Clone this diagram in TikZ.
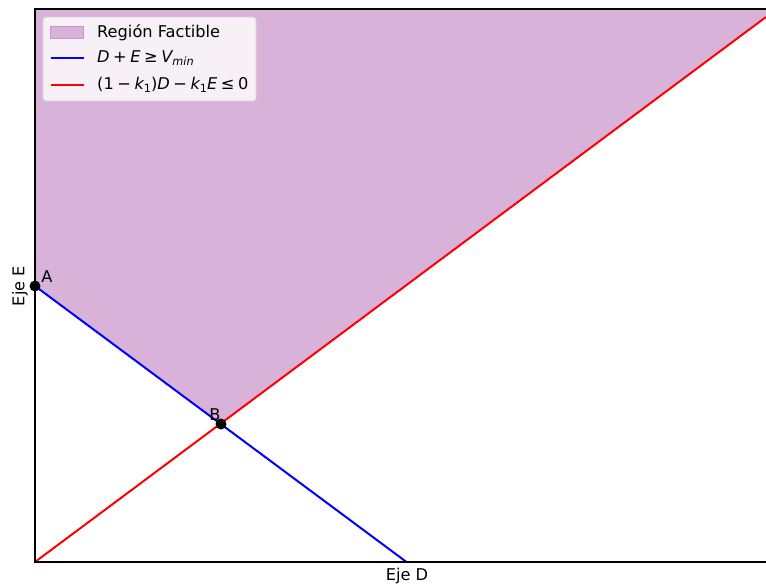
\documentclass[tikz,border=0pt]{standalone}
\usepackage{fontspec}
\setmainfont{DejaVu Sans}
\usetikzlibrary{positioning}
\definecolor{regionfill}{RGB}{217,178,217}
\definecolor{regionedge}{RGB}{200,150,200}
\definecolor{legendfill}{RGB}{247,240,247}
\definecolor{legendedge}{RGB}{214,214,214}
\definecolor{vblue}{RGB}{0,0,255}
\definecolor{kred}{RGB}{255,0,0}
\tikzstyle{spine} = [draw,line width=1.1pt]
\tikzstyle{constr} = [draw,line width=2pt]
\tikzstyle{dot} = [circle,fill=black,inner sep=0pt,minimum size=11pt]
\tikzstyle{lbl} = [font=\fontsize{16.2}{19}\selectfont,inner sep=0pt]
\newcommand{\vi}[1]{{\itshape #1}}
\newcommand{\vsub}[1]{\raisebox{-0.3ex}{\fontsize{11.3}{13}\selectfont\itshape #1}}
\newcommand{\nsub}[1]{\raisebox{-0.3ex}{\fontsize{11.3}{13}\selectfont #1}}
\newcommand{\opsp}{\hspace{0.22em}}

\begin{document}
\begin{tikzpicture}[x=1pt,y=-1pt]
    \useasboundingbox (0,0) rectangle (766,584);
    % axes corners
    \coordinate (tl) at (35,9);
    \coordinate (tr) at (766,9);
    \coordinate (bl) at (35,562);
    \coordinate (br) at (766,562);
    % vertices and line ends
    \coordinate (A) at (35,286);
    \coordinate (B) at (221,424);
    \coordinate (vend) at (406.5,562);
    \coordinate (kend) at (766,17);
    % feasible region
    \fill[regionfill] (A) -- (B) -- (kend) -- (tr) -- (tl) -- cycle;
    % constraints
    \draw[constr, vblue] (A) -- (vend);
    \draw[constr, kred] (bl) -- (kend);
    % spines
    \draw[spine] (tr) -- (tl) -- (bl) -- (br);
    % points
    \node[dot] (pA) at (A) {};
    \node[dot] (pB) at (B) {};
    \node[lbl] (lA) at (47,277) {A};
    \node[lbl] (lB) at (215,415) {B};
    % axis labels
    \node[lbl] (xlab) at (407,576) {Eje D};
    \node[lbl, rotate=90] (ylab) at (20,286) {Eje E};
    % legend
    \draw[legendedge, fill=legendfill, rounded corners=3pt, line width=0.8pt] (43,17) rectangle (256,101);
    \draw[regionedge, fill=regionfill, line width=0.8pt] (50.5,26.5) rectangle (83.5,38.5);
    \draw[constr, vblue] (50.5,58) coordinate (lv1) -- (83.5,58) coordinate (lv2);
    \draw[constr, kred] (50.5,85) coordinate (lk1) -- (83.5,85) coordinate (lk2);
    \node[lbl, anchor=west] (leg1) at (97,32.5) {Región Factible};
    \node[lbl, anchor=west] (leg2) at (97,58) {\vi{D}\opsp+\opsp\vi{E}\opsp≥\opsp\vi{V}\vsub{min}};
    \node[lbl, anchor=west] (leg3) at (97,85) {(1\opsp−\opsp\vi{k}\nsub{1})\vi{D}\opsp−\opsp\vi{k}\nsub{1}\vi{E}\opsp≤\opsp0};
\end{tikzpicture}
\end{document}
